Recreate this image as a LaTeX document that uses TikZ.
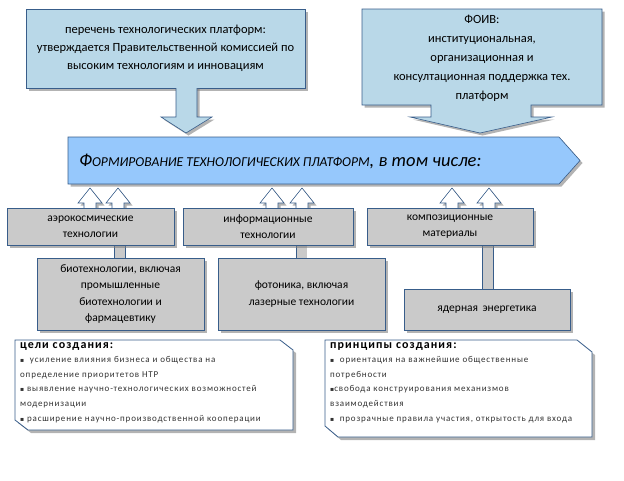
\documentclass[tikz,border=0pt]{standalone}
\usepackage{fontspec}
\setmainfont{Carlito}
\newfontfamily\symb{DejaVu Sans}
\usetikzlibrary{shadows}
\definecolor{topblue}{RGB}{185,216,232}
\definecolor{mainblue}{RGB}{150,200,252}
\definecolor{boxgray}{RGB}{202,202,202}
\definecolor{edgeblue}{RGB}{56,93,138}
\newcommand{\sq}{{\symb\fontsize{6}{6}\selectfont ▪}}

\begin{document}
\begin{tikzpicture}[x=1pt, y=-1pt, every node/.style={font=\fontsize{11.5}{16.5}\selectfont, align=center, inner sep=0pt},
	sh/.style={drop shadow={shadow xshift=2.5pt, shadow yshift=-2.5pt, fill=black!50, opacity=.6}},
	topbox/.style={draw=edgeblue, semithick, fill=topblue, sh},
	graybox/.style={draw=edgeblue, semithick, fill=boxgray, sh},
	goalbox/.style={draw=edgeblue, thick, fill=white, drop shadow={shadow xshift=3pt, shadow yshift=-3pt, fill=black!50, opacity=.6}},
	goaltext/.style={anchor=north west, align=left, text=black!80, font=\fontsize{9}{14.6}\selectfont\addfontfeatures{LetterSpace=9}},
	pipe/.style={draw=edgeblue, semithick, double=boxgray, double distance=10pt},
	uparr/.pic={\draw[edgeblue, semithick, fill=white, sh] (-6,3) -- (-6,-5) -- (-12,-5) -- (0,-20) -- (12,-5) -- (6,-5) -- (6,3) -- cycle;}]
	\useasboundingbox (0,0) rectangle (624,480);

	% upper boxes
	\node[topbox, minimum width=279, minimum height=79, font=\fontsize{12.5}{18}\selectfont] (list) at (165.5,48.5) {перечень технологических платформ:\\утверждается Правительственной комиссией по\\высоким технологиям и инновациям};
	\path[fill=topblue, sh] (176,86) -- (176,117) -- (161,117) -- (186,133) -- (212,117) -- (197,117) -- (197,86) -- cycle;
	\draw[edgeblue, semithick] (176,88) -- (176,117) -- (161,117) -- (186,133) -- (212,117) -- (197,117) -- (197,88);
	\draw[topbox] (362,9) -- (602,9) -- (602,105) -- (531,105) -- (531,117) -- (552,117) -- (480,133) -- (410,117) -- (431,117) -- (431,105) -- (362,105) -- cycle;
	\node[font=\fontsize{12.5}{19}\selectfont] (foiv) at (482,58) {ФОИВ:\\институциональная,\\организационная и\\консултационная поддержка тех.\\платформ};

	% main arrow
	\draw[draw=edgeblue, semithick, fill=mainblue, sh] (68,137) -- (559,137) -- (580,160.5) -- (559,184) -- (68,184) -- cycle;
	\node[anchor=west, font=\itshape] (main) at (79,161) {{\fontsize{18.5}{18.5}\selectfont Ф}{\fontsize{13.6}{13.6}\selectfont ОРМИРОВАНИЕ ТЕХНОЛОГИЧЕСКИХ ПЛАТФОРМ}{\fontsize{18.5}{18.5}\selectfont, в том числе:}};

	% platforms
	\foreach \x in {90,118,272,302,452,489}
		\pic at (\x,208) {uparr};
	\draw[pipe] (120,244) -- (120,259);
	\draw[pipe] (301.5,244) -- (301.5,259);
	\draw[pipe] (488,244) -- (488,290);
	\node[graybox, minimum width=167, minimum height=37] (aero) at (90.5,226.5) {аэрокосмические\\технологии};
	\node[graybox, minimum width=170, minimum height=37] (info) at (268,226.5) {информационные\\технологии};
	\node[graybox, minimum width=166, minimum height=37] (comp) at (450,226.5) {композиционные\\материалы};
	\node[graybox, minimum width=167, minimum height=72] (bio) at (120.5,294) {биотехнологии, включая\\промышленные\\биотехнологии и\\фармацевтику};
	\node[graybox, minimum width=167, minimum height=72] (phot) at (301.5,294) {фотоника, включая\\лазерные технологии};
	\node[graybox, minimum width=166, minimum height=41] (nucl) at (487,309.5) {ядерная\, энергетика};

	% goals and principles
	\draw[goalbox] (15,340) -- (280,340) -- (293,350) -- (293,430) -- (28,430) -- (15,420) -- cycle;
	\draw[goalbox] (325,340) -- (577,340) -- (592,352) -- (592,437) -- (338,437) -- (325,426) -- cycle;
	\node[goaltext] (goals) at (20,342) {{\fontsize{12}{14.6}\selectfont\bfseries\color{black}цели создания:}\\\sq\ \ усиление влияния бизнеса и общества на\\определение приоритетов НТР\\\sq\ выявление научно-технологических возможностей\\модернизации\\\sq\ расширение научно-производственной кооперации};
	\node[goaltext] (princ) at (330,342) {{\fontsize{12}{14.6}\selectfont\bfseries\color{black}принципы создания:}\\\sq\ \ ориентация на важнейшие общественные\\потребности\\\sq свобода конструирования механизмов\\взаимодействия\\\sq\ \ прозрачные правила участия, открытость для входа};
\end{tikzpicture}
\end{document}
